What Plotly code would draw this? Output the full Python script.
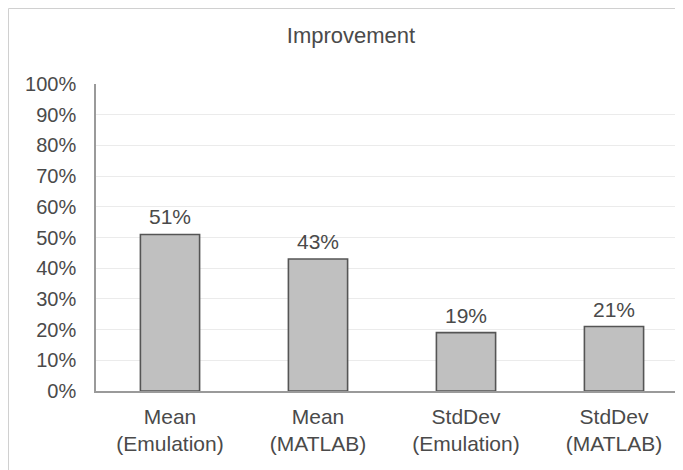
import plotly.graph_objects as go

categories = ["Mean<br>(Emulation)", "Mean<br>(MATLAB)", "StdDev<br>(Emulation)", "StdDev<br>(MATLAB)"]
values = [0.51, 0.43, 0.19, 0.21]
value_labels = ["51%", "43%", "19%", "21%"]
title_text = "Improvement"

# the page body adds an 8px offset, so the figure is sized to fit the window
W, H = 675, 462
L, T, B = 88, 76, 79
plot_w = W - L
plot_h = H - T - B
FONT = "Liberation Sans, Arial, sans-serif"
TXT = "#4a4a4a"

fig = go.Figure()
fig.add_trace(go.Bar(
    x=categories, y=values,
    marker=dict(color="#c0c0c0", line=dict(color="#555555", width=1.6)),
    hoverinfo="skip",
))

for c, v, t in zip(categories, values, value_labels):
    fig.add_annotation(x=c, y=v, text=t, showarrow=False, yanchor="bottom", yshift=4,
                       font=dict(family=FONT, size=21, color=TXT))

# outer chart frame
fig.add_shape(type="rect", xref="paper", yref="paper",
              x0=(0.5 - L) / plot_w, x1=1.1, y0=-0.5, y1=1 + (T - 0.5) / plot_h,
              line=dict(color="#d0d0d0", width=1), fillcolor="rgba(0,0,0,0)", layer="below")

fig.update_layout(
    width=W, height=H,
    margin=dict(l=L, r=0, t=T, b=B, pad=0),
    paper_bgcolor="white", plot_bgcolor="white",
    showlegend=False,
    bargap=0.6,
    font=dict(family=FONT, size=21, color=TXT),
    title=dict(text=title_text, x=343 / W, xref="container", xanchor="center",
               y=1 - 27 / H, yref="container", yanchor="middle",
               font=dict(family=FONT, size=22, color=TXT)),
    xaxis=dict(range=[-0.5, 3.5 - 5 / 148], showgrid=False, showline=True,
               linecolor="#9a9a9a", linewidth=1.5, ticks="", zeroline=False,
               ticklabelstandoff=6, tickfont=dict(family=FONT, size=21, color=TXT)),
    yaxis=dict(range=[0, 1], dtick=0.1, tickformat=".0%", showgrid=True,
               gridcolor="#ebebeb", gridwidth=1, showline=True, linecolor="#9a9a9a",
               linewidth=1.5, zeroline=False, ticks="", ticklabelstandoff=14,
               tickfont=dict(family=FONT, size=20, color=TXT)),
)

fig.write_html("out.html")
